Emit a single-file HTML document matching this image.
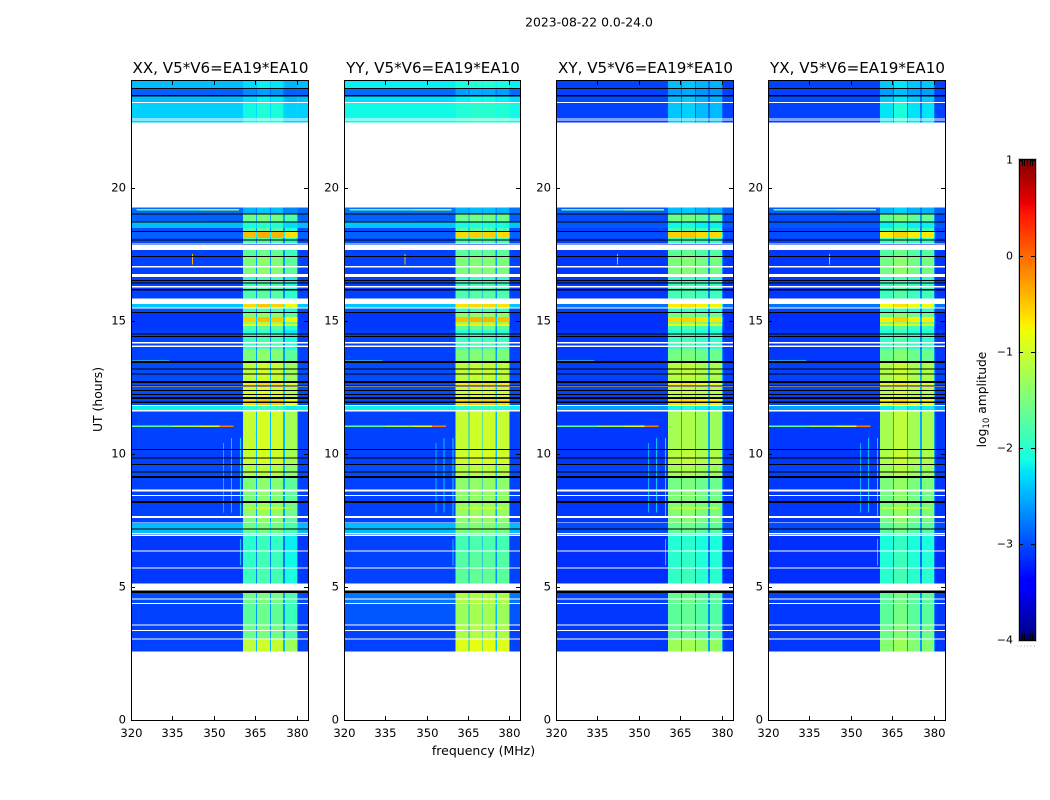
<!DOCTYPE html>
<html>
<head>
<meta charset="utf-8">
<title>2023-08-22 0.0-24.0</title>
<style>
html,body{margin:0;padding:0;background:#fff;width:1050px;height:800px;overflow:hidden}
svg{display:block}
text{font-family:"DejaVu Sans","Liberation Sans",sans-serif;fill:#000}
</style>
</head>
<body>
<svg id="figure" xmlns="http://www.w3.org/2000/svg" width="1050" height="800" viewBox="0 0 1050 800">
<rect width="1050" height="800" fill="#fff"/>
<text x="589" y="26.5" font-size="12.4" text-anchor="middle">2023-08-22 0.0-24.0</text>
<text x="0" y="0" font-size="12.4" text-anchor="middle" transform="translate(102 399.5) rotate(-90)">UT (hours)</text>
<text x="483.5" y="755" font-size="12.5" text-anchor="middle">frequency (MHz)</text>
<text font-size="12.3" text-anchor="middle" transform="translate(986 399.5) rotate(-90)">log<tspan font-size="8.6" dy="3">10</tspan><tspan dy="-3"> amplitude</tspan></text>
</svg>
<script>
// Panel names, in drawing order
const polarisations = ['XX', 'YY', 'XY', 'YX'];
const baselineLabel = 'V5*V6=EA19*EA10';

// Tick labels
const freqTicks = [320, 335, 350, 365, 380];
const utTicks = [0, 5, 10, 15, 20];
const colorTicks = [-4, -3, -2, -1, 0, 1];

// UT edges of the observing segments
const segmentEdges = [2.565,3.04,3.57,4.36,4.85,5.71,6.35,6.99,7.40,7.66,8.19,8.68,9.13,9.62,10.18,11.61,11.83,12.09,12.55,12.66,13.41,13.93,14.39,14.65,14.80,14.87,14.95,15.14,15.29,15.47,15.62,16.11,16.53,16.75,17.01,17.39,17.65,17.88,18.10,18.33,18.48,18.70,19.01,19.25,22.44,23.17,23.44,23.74,24.0];

// log10 amplitude of off-band channels, per segment
const backgroundXX = [-3.05,-3.05,-3.05,-3.0,-3.1,-3.1,-3.1,-2.45,-3.05,-3.05,-3.05,-3.05,-3.0,-3.05,-3.05,-2.2,-3.0,-3.0,-3.0,-3.0,-3.05,-3.05,-3.05,-3.1,-3.1,-3.1,-3.1,-3.1,-3.0,-2.4,-3.05,-3.05,-3.05,-3.05,-3.05,-3.05,-3.05,-3.0,-2.9,-3.0,-2.45,-2.9,-2.85,-3.5,-2.35,-2.45,-2.9,-2.45];
const backgroundYY = [-3.05,-3.05,-2.95,-2.8,-3.05,-3.05,-3.05,-2.45,-3.05,-3.05,-3.05,-3.05,-3.0,-3.05,-3.05,-2.2,-3.0,-3.0,-3.0,-3.0,-3.05,-3.05,-3.05,-3.1,-3.1,-3.1,-3.1,-3.1,-3.0,-2.4,-3.05,-3.05,-3.05,-3.05,-3.05,-3.05,-3.05,-3.0,-2.9,-3.0,-2.4,-2.9,-2.8,-3.5,-2.15,-2.3,-2.85,-2.2];
const backgroundXY = [-3.1,-3.1,-3.1,-3.05,-3.15,-3.15,-3.15,-3.0,-3.1,-3.1,-3.1,-3.1,-3.05,-3.1,-3.1,-2.6,-3.05,-3.05,-3.05,-3.05,-3.1,-3.1,-3.1,-3.15,-3.15,-3.15,-3.15,-3.15,-3.05,-2.8,-3.1,-3.1,-3.1,-3.1,-3.1,-3.1,-3.1,-3.05,-3.0,-3.05,-2.95,-3.0,-2.9,-3.5,-3.05,-3.0,-3.05,-3.05];
const backgroundYX = [-3.1,-3.1,-3.1,-3.05,-3.15,-3.15,-3.15,-3.0,-3.1,-3.1,-3.1,-3.1,-3.05,-3.1,-3.1,-2.6,-3.05,-3.05,-3.05,-3.05,-3.1,-3.1,-3.1,-3.15,-3.15,-3.15,-3.15,-3.15,-3.05,-2.8,-3.1,-3.1,-3.1,-3.1,-3.1,-3.1,-3.1,-3.05,-3.0,-3.05,-2.95,-3.0,-2.9,-3.5,-3.05,-3.0,-3.05,-3.05];

// log10 amplitude inside the four bright sub-bands, per segment
const bandXX = [-1.1,-1.6,-1.7,-1.6,-1.9,-1.95,-2.0,-1.6,-1.5,-1.4,-1.5,-1.5,-1.2,-1.05,-1.05,-2.0,-0.6,-1.0,-0.7,-1.1,-1.5,-1.9,-2.0,-1.8,-0.8,-1.4,-0.55,-1.5,-1.9,-0.6,-1.8,-1.9,-2.0,-1.5,-1.5,-1.7,-3.5,-1.8,-0.45,-1.8,-2.1,-1.6,-2.5,-3.5,-2.15,-2.3,-2.7,-2.3];
const bandYY = [-0.9,-1.2,-1.3,-1.2,-1.7,-1.75,-1.85,-1.5,-1.4,-1.35,-1.4,-1.4,-1.15,-1.0,-1.05,-2.0,-0.6,-1.0,-0.7,-1.1,-1.5,-1.9,-2.0,-1.7,-0.75,-1.3,-0.45,-1.4,-1.9,-0.65,-1.8,-1.9,-2.0,-1.5,-1.5,-1.7,-3.5,-1.8,-0.6,-1.8,-2.1,-1.6,-2.5,-3.5,-2.05,-2.2,-2.6,-2.1];
const bandXY = [-1.35,-1.7,-1.75,-1.7,-2.0,-2.05,-2.1,-1.7,-1.55,-1.5,-1.55,-1.6,-1.3,-1.2,-1.3,-2.2,-0.7,-1.15,-0.8,-1.2,-1.6,-1.95,-2.05,-1.9,-0.9,-1.5,-0.65,-1.6,-2.0,-0.75,-1.9,-1.95,-2.05,-1.55,-1.55,-1.75,-3.5,-1.9,-0.6,-1.9,-2.2,-1.65,-2.5,-3.5,-2.45,-2.5,-2.65,-2.5];
const bandYX = [-1.45,-1.6,-1.7,-1.7,-2.0,-2.05,-2.1,-1.7,-1.55,-1.5,-1.55,-1.5,-1.3,-1.2,-1.25,-2.2,-0.75,-1.15,-0.85,-1.2,-1.6,-1.95,-2.05,-1.9,-0.9,-1.5,-0.7,-1.6,-2.0,-0.8,-1.9,-1.95,-2.05,-1.55,-1.55,-1.75,-3.5,-1.9,-0.7,-1.9,-2.2,-1.65,-2.5,-3.5,-2.25,-2.4,-2.6,-2.4];

// Sub-band frequency edges (MHz) and per-panel offset of each sub-band
const subBandStart = [360.5, 365.6, 370.6, 375.7];
const subBandEnd = [365.2, 370.3, 375.0, 380.0];
const offsetXX = [0, 0.1, 0.05, -0.2];
const offsetYY = [0, 0.05, 0.05, 0];
const offsetXY = [0.05, 0.1, 0, 0];
const offsetYX = [0, 0.15, 0, 0];

// Flagged time ranges (UT hours), shown blank
const blankStart = [0,3.02,3.34,3.55,4.36,4.53,4.86,5.69,6.33,6.91,6.99,7.39,7.59,8.41,8.59,11.58,11.79,12.51,14.01,14.14,15.45,15.62,16.24,16.64,17.0,17.65,17.86,19.25,22.51,22.55,23.17];
const blankEnd = [2.565,3.06,3.38,3.59,4.39,4.56,5.13,5.73,6.37,6.97,7.02,7.42,7.66,8.45,8.66,11.64,11.83,12.56,14.07,14.20,15.49,15.83,16.30,16.75,17.05,17.84,17.90,22.44,22.54,22.59,23.21];

// Zero-amplitude time rows (UT hours), shown black
const zeroRows = [4.81,7.17,8.19,9.13,9.31,9.60,9.84,10.16,11.94,12.09,12.23,12.38,12.54,12.69,12.99,13.18,13.45,14.40,14.50,15.31,16.16,16.42,16.51,17.41,18.03,18.35,18.71,19.00,23.44,23.72];
const zeroRowWidths = [0.09,0.04,0.08,0.08,0.04,0.04,0.04,0.05,0.06,0.08,0.04,0.04,0.04,0.07,0.04,0.05,0.08,0.04,0.04,0.04,0.04,0.035,0.04,0.035,0.05,0.05,0.04,0.04,0.05,0.05];

// Narrow interference: time rows
const rfiRowUT = [11.03,11.03,11.03,11.03,19.16,19.16,13.48,7.96];
const rfiRowFrom = [320.3,335,345,352,322,345,320.3,361];
const rfiRowTo = [335,345,352,357,345,359,334,379];
const rfiRowValue = [-1.7,-1.2,-0.8,-0.1,-1.6,-1.2,-1.8,-0.8];

// Narrow interference: frequency columns
const rfiColFreq = [353.3,356.2,359.4,359.4,342];
const rfiColFrom = [7.8,7.8,7.6,5.8,17.1];
const rfiColTo = [10.4,10.6,10.6,6.8,17.5];
const rfiColValue = [-2.5,-2.4,-2.3,-2.4,-0.4];

const backgroundByPol = {XX: backgroundXX, YY: backgroundYY, XY: backgroundXY, YX: backgroundYX};
const bandByPol = {XX: bandXX, YY: bandYY, XY: bandXY, YX: bandYX};
const offsetByPol = {XX: offsetXX, YY: offsetYY, XY: offsetXY, YX: offsetYX};

// Layout (figure pixels)
const panelLefts = [131, 344, 556, 768];
const panelWidths = [177, 176, 177, 177];
const plotTop = 81;
const plotBottom = 720;
const freqMin = 320;
const freqMax = 384;
const utMax = 24;
const cbarLeft = 1019, cbarWidth = 16, cbarTop = 160, cbarBottom = 640;
const svgNS = 'http://www.w3.org/2000/svg';
const figure = document.getElementById('figure');

function xAxis(panel, freq) {
  return panelLefts[panel] + (freq - freqMin) / (freqMax - freqMin) * panelWidths[panel];
}
function yAxis(ut) {
  return plotBottom - ut / utMax * (plotBottom - plotTop);
}
function cbarAxis(v) {
  return cbarBottom - (v + 4) / 5 * (cbarBottom - cbarTop);
}
function ramp(x, pts) {
  for (let i = 1; i < pts.length; i++) {
    if (x <= pts[i][0]) {
      const a = pts[i - 1], b = pts[i];
      return a[1] + (b[1] - a[1]) * (x - a[0]) / (b[0] - a[0]);
    }
  }
  return pts[pts.length - 1][1];
}
function jet(v) {
  const n = Math.max(0, Math.min(1, (v + 4) / 5));
  const r = ramp(n, [[0, 0], [0.35, 0], [0.66, 1], [0.89, 1], [1, 0.5]]);
  const g = ramp(n, [[0, 0], [0.125, 0], [0.375, 1], [0.64, 1], [0.91, 0], [1, 0]]);
  const b = ramp(n, [[0, 0.5], [0.11, 1], [0.34, 1], [0.65, 0], [1, 0]]);
  return 'rgb(' + Math.round(r * 255) + ',' + Math.round(g * 255) + ',' + Math.round(b * 255) + ')';
}
function drawRect(parent, x0, y0, x1, y1, fill, name) {
  const el = document.createElementNS(svgNS, 'rect');
  el.setAttribute('x', Math.min(x0, x1));
  el.setAttribute('y', Math.min(y0, y1));
  el.setAttribute('width', Math.abs(x1 - x0));
  el.setAttribute('height', Math.abs(y1 - y0));
  el.setAttribute('fill', fill);
  el.setAttribute('shape-rendering', 'crispEdges');
  
  
  parent.appendChild(el);
  return el;
}
function drawLine(parent, x1, y1, x2, y2, name, color) {
  const el = document.createElementNS(svgNS, 'line');
  el.setAttribute('x1', x1);
  el.setAttribute('y1', y1);
  el.setAttribute('x2', x2);
  el.setAttribute('y2', y2);
  el.setAttribute('stroke', color || '#000');
  el.setAttribute('stroke-width', '1');
  
  
  parent.appendChild(el);
}
function drawText(parent, x, y, str, size, anchor, name) {
  const el = document.createElementNS(svgNS, 'text');
  el.setAttribute('x', x);
  el.setAttribute('y', y);
  el.setAttribute('font-size', size);
  el.setAttribute('text-anchor', anchor);
  
  
  el.textContent = str;
  parent.appendChild(el);
}
function drawGroup(name) {
  const g = document.createElementNS(svgNS, 'g');
  
  
  figure.appendChild(g);
  return g;
}

polarisations.forEach(function (pol, p) {
  const panel = drawGroup('panel-' + pol.toLowerCase());
  const bg = backgroundByPol[pol];
  const band = bandByPol[pol];
  const offset = offsetByPol[pol];

  for (let s = 0; s < segmentEdges.length - 1; s++) {
    const y0 = yAxis(segmentEdges[s]);
    const y1 = yAxis(segmentEdges[s + 1]);
    drawRect(panel, xAxis(p, freqMin), y0, xAxis(p, freqMax), y1, jet(bg[s]), 'heatmap-background-cell');
    const gapValue = bg[s] * 0.7 + band[s] * 0.3;
    subBandStart.forEach(function (start, b) {
      drawRect(panel, xAxis(p, start), y0, xAxis(p, subBandEnd[b]), y1, jet(band[s] + offset[b]), 'heatmap-band-cell');
      const nextStart = b + 1 < subBandStart.length ? subBandStart[b + 1] : 380.4;
      drawRect(panel, xAxis(p, subBandEnd[b]), y0, xAxis(p, nextStart), y1, jet(gapValue), 'heatmap-gap-cell');
    });
  }

  rfiRowUT.forEach(function (ut, i) {
    drawRect(panel, xAxis(p, rfiRowFrom[i]), yAxis(ut + 0.025), xAxis(p, rfiRowTo[i]), yAxis(ut - 0.025), jet(rfiRowValue[i]), 'rfi-row');
  });
  rfiColFreq.forEach(function (f, i) {
    drawRect(panel, xAxis(p, f), yAxis(rfiColTo[i]), xAxis(p, f + 0.4), yAxis(rfiColFrom[i]), jet(rfiColValue[i]), 'rfi-column');
  });
  blankStart.forEach(function (start, i) {
    drawRect(panel, xAxis(p, freqMin), yAxis(blankEnd[i]), xAxis(p, freqMax), yAxis(start), '#fff', 'flagged-row');
  });
  zeroRows.forEach(function (ut, i) {
    drawRect(panel, xAxis(p, freqMin), yAxis(ut + zeroRowWidths[i] / 2), xAxis(p, freqMax), yAxis(ut - zeroRowWidths[i] / 2), '#000', 'zero-row');
  });

  const L = xAxis(p, freqMin), R = xAxis(p, freqMax);
  freqTicks.forEach(function (f) {
    const x = Math.round(xAxis(p, f)) + 0.5;
    drawLine(panel, x, plotBottom, x, plotBottom - 4, 'x-tick');
    drawLine(panel, x, plotTop, x, plotTop + 4, 'x-tick-top');
    drawText(panel, x, plotBottom + 17, String(f), 11.6, 'middle', 'x-tick-label');
  });
  utTicks.forEach(function (u) {
    const y = Math.round(yAxis(u)) + 0.5;
    drawLine(panel, L, y, L + 4, y, 'y-tick');
    drawLine(panel, R, y, R - 4, y, 'y-tick-right');
    drawText(panel, L - 5, y + 3, String(u), 11.6, 'end', 'y-tick-label');
  });

  const frame = document.createElementNS(svgNS, 'rect');
  frame.setAttribute('x', L + 0.5);
  frame.setAttribute('y', plotTop - 0.5);
  frame.setAttribute('width', panelWidths[p]);
  frame.setAttribute('height', plotBottom - plotTop + 1);
  frame.setAttribute('fill', 'none');
  frame.setAttribute('stroke', '#000');
  frame.setAttribute('stroke-width', '1');
  
  
  panel.appendChild(frame);

  drawText(panel, L + panelWidths[p] / 2 + 1, plotTop - 8, pol + ', ' + baselineLabel, 15.1, 'middle', 'panel-title');
});

const cbar = drawGroup('colorbar');
const cbarHalo = document.createElementNS(svgNS, 'rect');
cbarHalo.setAttribute('x', cbarLeft - 0.5);
cbarHalo.setAttribute('y', cbarTop - 1.5);
cbarHalo.setAttribute('width', cbarWidth + 2);
cbarHalo.setAttribute('height', cbarBottom - cbarTop + 3);
cbarHalo.setAttribute('fill', 'none');
cbarHalo.setAttribute('stroke', '#c8c8c8');


cbar.appendChild(cbarHalo);
for (let i = 0; i < 255; i++) {
  const v = -4 + 5 * i / 255;
  const vNext = -4 + 5 * (i + 1) / 255;
  drawRect(cbar, cbarLeft, cbarAxis(vNext), cbarLeft + cbarWidth, cbarAxis(v) + 0.6, jet(v), 'colorbar-step');
}
for (let i = 1; i <= 5; i++) {
  const x = cbarLeft + Math.round(i * cbarWidth / 6) + 0.5;
  drawLine(cbar, x, cbarTop, x, cbarTop + 6, 'colorbar-end-tick-top');
  drawLine(cbar, x, cbarBottom, x, cbarBottom - 6, 'colorbar-end-tick-bottom');
}
for (let i = 0; i < 6; i++) {
  const x = cbarLeft - 2 + i * 3.4;
  drawRect(cbar, x, 645.5, x + 1, 646.5, '#b0b0b0', 'colorbar-offset-dot');
}
colorTicks.forEach(function (t) {
  const y = Math.round(cbarAxis(t)) + 0.5;
  drawLine(cbar, cbarLeft, y, cbarLeft + 4, y, 'colorbar-tick');
  drawLine(cbar, cbarLeft + cbarWidth, y, cbarLeft + cbarWidth - 4, y, 'colorbar-tick-right');
  drawText(cbar, cbarLeft - 6, y + 3, String(t).replace('-', '\u2212'), 11, 'end', 'colorbar-tick-label');
});
const cbarFrame = document.createElementNS(svgNS, 'rect');
cbarFrame.setAttribute('x', cbarLeft + 0.5);
cbarFrame.setAttribute('y', cbarTop - 0.5);
cbarFrame.setAttribute('width', cbarWidth);
cbarFrame.setAttribute('height', cbarBottom - cbarTop + 1);
cbarFrame.setAttribute('fill', 'none');
cbarFrame.setAttribute('stroke', '#000');


cbar.appendChild(cbarFrame);
</script>
</body>
</html>
